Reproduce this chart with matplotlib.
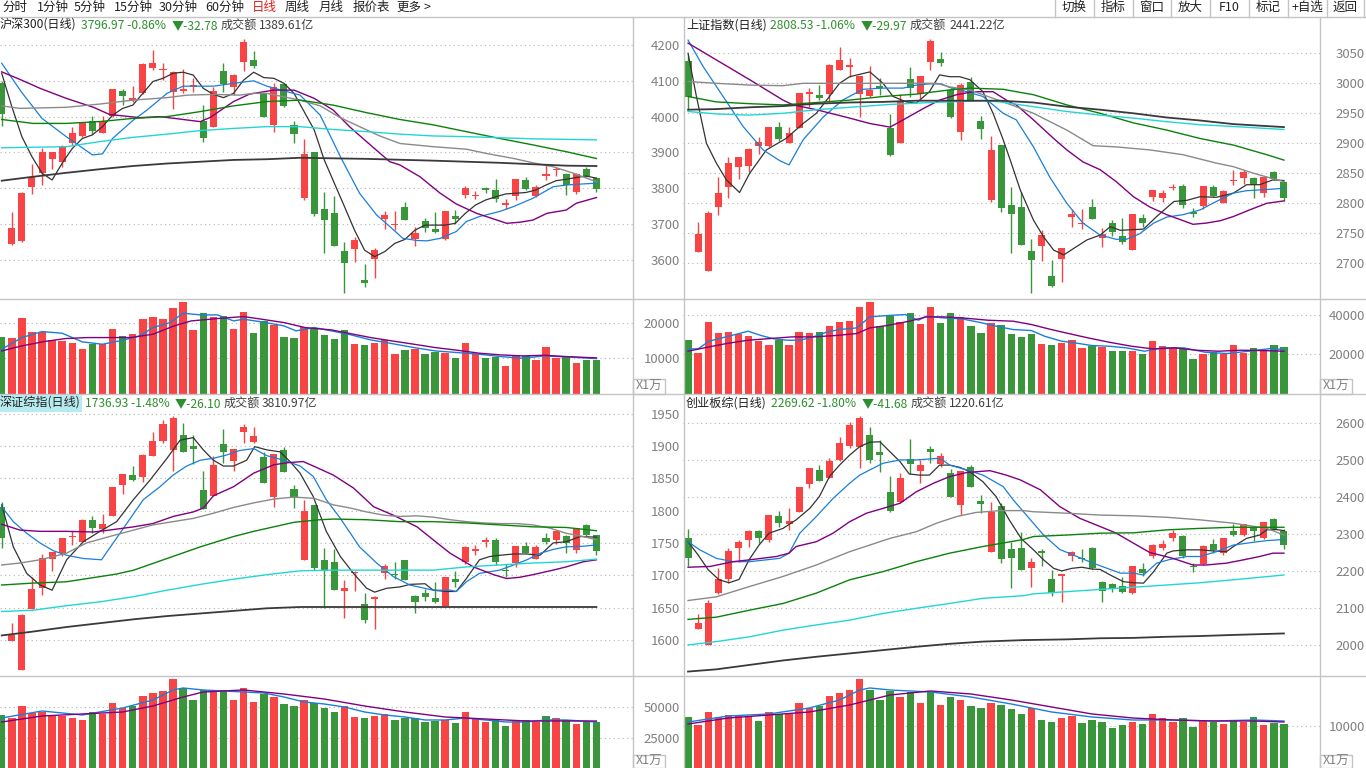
import matplotlib
matplotlib.use("Agg")
import matplotlib.pyplot as plt
from matplotlib.lines import Line2D
from matplotlib.patches import Rectangle

plt.rcParams['font.family'] = ['Noto Sans CJK SC', 'DejaVu Sans']

W, H = 1366, 768
RED = '#f84444'
GREEN = '#3a963a'
BORDER = '#c4c4c4'
GRID = '#b4b4b4'
LABEL = '#808080'
TGREEN = '#2e8f2e'

# ---------------- 沪深300 ----------------
hs300_open = [4093, 3643, 3653, 3804, 3843, 3882, 3874, 3927, 3946, 3988, 3955, 4002, 4072, 4047, 4065,
              4137, 4130, 4070, 4072, 4083, 3989, 3972, 4127, 4082, 4153, 4158, 4062, 3977, 4091, 3977,
              3774, 3900, 3742, 3731, 3625, 3631, 3544, 3601, 3715, 3697, 3748, 3658, 3708, 3685, 3658,
              3723, 3782, 3779, 3801, 3794, 3754, 3779, 3822, 3778, 3835, 3850, 3840, 3790, 3853, 3828]
hs300_high = [4100, 3734, 3789, 3868, 3911, 3900, 3921, 3970, 3984, 4002, 4002, 4076, 4076, 4086, 4151,
              4186, 4150, 4126, 4132, 4109, 4032, 4084, 4151, 4118, 4217, 4183, 4065, 4095, 4095, 3988,
              3938, 3900, 3789, 3779, 3650, 3665, 3588, 3632, 3735, 3736, 3762, 3691, 3716, 3734, 3736,
              3738, 3807, 3792, 3803, 3826, 3769, 3826, 3832, 3810, 3865, 3860, 3843, 3842, 3860, 3832]
hs300_low = [3975, 3641, 3650, 3784, 3809, 3853, 3860, 3921, 3944, 3951, 3953, 3999, 4032, 4042, 4062,
             4130, 4102, 4021, 4065, 4070, 3930, 3972, 4070, 4060, 4128, 4137, 3998, 3958, 4028, 3927,
             3767, 3723, 3620, 3638, 3506, 3593, 3525, 3548, 3686, 3683, 3712, 3640, 3679, 3674, 3654,
             3701, 3774, 3770, 3786, 3762, 3741, 3767, 3795, 3776, 3823, 3835, 3781, 3784, 3832, 3789]
hs300_close = [4006, 3688, 3786, 3830, 3900, 3900, 3918, 3953, 3984, 3961, 3988, 4076, 4058, 4052, 4147,
               4150, 4133, 4124, 4076, 4087, 3941, 4072, 4091, 4116, 4208, 4140, 3998, 4082, 4030, 3951,
               3896, 3729, 3711, 3639, 3592, 3655, 3534, 3628, 3724, 3701, 3712, 3675, 3690, 3678, 3736,
               3714, 3801, 3782, 3795, 3770, 3758, 3826, 3797, 3804, 3839, 3853, 3809, 3839, 3834, 3797]
hs300_vol = [16035, 15750, 21417, 17450, 17550, 15100, 14900, 14333, 12634, 14150, 14150, 18300, 16300,
             16880, 21135, 21700, 21135, 24250, 25950, 18000, 22830, 21700, 21984, 18300, 23116, 17170,
             20567, 19530, 16035, 15750, 18867, 18680, 16600, 15450, 18000, 14050, 13770, 14333, 15185,
             11216, 12350, 12634, 11216, 11784, 11500, 10080, 14333, 11216, 10080, 10365, 7815, 10650,
             10650, 9515, 13200, 10080, 10365, 8665, 9515, 9515]
hs300_ma5 = [(0, 4121), (1, 4028), (2, 3944), (3, 3888), (4, 3842), (5, 3823), (6, 3870), (7, 3911),
             (8, 3939), (9, 3949), (10, 3972), (11, 4004), (12, 4023), (13, 4032), (14, 4065), (15, 4098),
             (16, 4107), (17, 4121), (18, 4124), (19, 4116), (20, 4079), (21, 4062), (22, 4053), (23, 4065),
             (24, 4102), (25, 4124), (26, 4109), (27, 4107), (28, 4093), (29, 4065), (30, 4014), (31, 3963),
             (32, 3879), (33, 3814), (34, 3749), (35, 3683), (36, 3627), (37, 3609), (38, 3623), (39, 3646),
             (40, 3657), (41, 3683), (42, 3697), (44, 3697), (45, 3702), (46, 3730), (47, 3753), (48, 3767),
             (49, 3776), (50, 3784), (52, 3788), (53, 3795), (54, 3809), (55, 3821), (56, 3825), (57, 3830),
             (58, 3834), (59, 3828)]
hs300_ma10 = [(0, 4149), (2, 4067), (4, 3995), (6.4, 3944), (9, 3893), (10, 3896), (11, 3939), (13, 3989),
              (14.4, 4018), (16.4, 4065), (18, 4085), (21, 4085), (23, 4093), (25, 4100), (26.3, 4085),
              (28, 4072), (29.6, 4060), (31.6, 4004), (33.6, 3888), (35.5, 3786), (37.2, 3725), (38.5, 3693),
              (39.8, 3660), (41.2, 3654), (42.2, 3653), (43.5, 3660), (45.1, 3679), (46.1, 3707), (47.4, 3721),
              (49.4, 3735), (50.8, 3749), (52.7, 3772), (54.7, 3804), (56, 3809), (57.7, 3812), (59, 3814)]
hs300_ma20 = [(0, 4125), (1.8, 4104), (3.8, 4079), (6.4, 4051), (9.1, 4026), (10.7, 4006), (13.7, 3997),
              (15.7, 4000), (19.7, 3986), (20.7, 3998), (23, 4042), (24.6, 4063), (27, 4074), (29, 4074),
              (31, 4051), (32.9, 4018), (34.5, 3972), (36.2, 3930), (38.5, 3874), (39.5, 3865), (41.5, 3832),
              (43.5, 3786), (45.1, 3756), (47.1, 3730), (50.1, 3702), (51.4, 3705), (52.7, 3711), (54.1, 3730),
              (56, 3739), (57, 3758), (59, 3774)]
hs300_ma30 = [(0, 4030), (1.8, 4023), (6.4, 4026), (9.7, 4035), (13, 4046), (16.4, 4053), (18.4, 4060),
              (21, 4062), (23.6, 4060), (25, 4065), (26.3, 4065), (29.6, 4046), (31.6, 4030), (33.6, 3997),
              (35.5, 3972), (37.5, 3946), (39.5, 3925), (42.8, 3916), (46.1, 3909), (48.1, 3897), (50.8, 3883),
              (52.7, 3871), (54.7, 3860), (56.7, 3842), (59, 3818)]
hs300_ma60 = [(0, 3992), (3.1, 3981), (6.4, 3981), (9.7, 3986), (13, 3995), (16.4, 4000), (19.7, 4014),
              (23, 4030), (26.3, 4042), (29.6, 4046), (32.9, 4032), (36.2, 4011), (39.5, 3992), (42.8, 3977),
              (46.1, 3958), (49.4, 3939), (52.7, 3921), (56, 3902), (59, 3883)]
hs300_ma120 = [(0, 3913), (6.4, 3916), (9.7, 3930), (13, 3942), (16.4, 3951), (19.7, 3961), (23, 3967),
               (26.3, 3972), (29.6, 3972), (32.9, 3964), (36.2, 3958), (39.5, 3951), (42.8, 3946), (46.1, 3944),
               (49.4, 3941), (52.7, 3938), (59, 3935)]
hs300_ma250 = [(0, 3821), (3.1, 3832), (6.4, 3843), (9.7, 3853), (13, 3862), (16.4, 3869), (19.7, 3874),
               (23, 3879), (26.3, 3881), (29.6, 3885), (36.2, 3882), (42.8, 3877), (46.1, 3874), (49.4, 3871),
               (52.7, 3867), (56, 3863), (59, 3862)]
hs300_vma5 = [(0, 12540), (2, 15845), (4, 17545), (6, 17073), (8, 14617), (10, 13955), (12, 15089),
              (13.7, 16317), (15, 18678), (16.7, 20094), (18, 22739), (19.7, 22267), (21.4, 22267), (23, 20567),
              (24, 21039), (25.8, 20284), (28, 19150), (29.2, 17734), (31, 18678), (32.7, 17734), (34.4, 16789),
              (36.6, 15184), (38.7, 14145), (40.9, 13011), (43, 12067), (45.2, 11595), (47.4, 11122),
              (49.5, 10461), (51.7, 9989), (53.8, 10650), (56, 10367), (59, 9895)]
hs300_vma10 = [(0, 12068), (2, 13485), (4.2, 14712), (6.3, 15562), (8.5, 15845), (10.6, 15845), (12.8, 15845),
               (15, 16789), (17.1, 19150), (18.8, 20567), (21.4, 21228), (24, 21795), (25.8, 21039), (28, 20094),
               (30.1, 18678), (32.7, 18017), (34.4, 17073), (36.6, 15845), (38.7, 14901), (40.9, 13956),
               (43, 13011), (45.2, 12256), (47.4, 11406), (49.5, 10934), (51.7, 10650), (53.8, 10839),
               (56, 10461), (59, 10084)]

# ---------------- 上证指数 ----------------
sh_open = [3037, 2719, 2688, 2794, 2828, 2861, 2863, 2896, 2896, 2927, 2901, 2926, 2983, 2981, 2983,
           3022, 3028, 2982, 2979, 2994, 2926, 2901, 3007, 2982, 3036, 3040, 2989, 2919, 3002, 2937,
           2805, 2897, 2797, 2794, 2720, 2729, 2679, 2707, 2778, 2765, 2794, 2743, 2768, 2745, 2723,
           2775, 2810, 2809, 2826, 2829, 2785, 2796, 2827, 2801, 2837, 2843, 2843, 2817, 2852, 2836]
sh_high = [3047, 2769, 2787, 2844, 2877, 2877, 2893, 2911, 2927, 2936, 2927, 2984, 2992, 2998, 3032,
           3060, 3042, 3013, 3029, 3009, 2949, 2982, 3028, 3012, 3074, 3053, 2993, 3001, 3010, 2946,
           2912, 2897, 2827, 2819, 2740, 2755, 2705, 2725, 2790, 2790, 2807, 2759, 2773, 2775, 2782,
           2782, 2823, 2823, 2833, 2833, 2793, 2829, 2831, 2823, 2855, 2855, 2844, 2845, 2854, 2837]
sh_low = [2956, 2719, 2688, 2781, 2809, 2841, 2853, 2882, 2894, 2904, 2900, 2926, 2961, 2972, 2969,
          3022, 3011, 2944, 2978, 2981, 2879, 2901, 2978, 2974, 3022, 3029, 2943, 2906, 2970, 2907,
          2802, 2786, 2718, 2730, 2650, 2704, 2660, 2669, 2760, 2757, 2774, 2727, 2745, 2733, 2723,
          2761, 2804, 2803, 2823, 2792, 2777, 2791, 2811, 2800, 2831, 2833, 2809, 2811, 2839, 2804]
sh_close = [2978, 2749, 2784, 2818, 2867, 2877, 2891, 2903, 2927, 2907, 2917, 2984, 2986, 2976, 3031,
            3039, 3031, 3013, 2989, 2993, 2880, 2971, 2993, 3012, 3071, 3034, 2944, 2997, 2971, 2924,
            2889, 2792, 2782, 2730, 2705, 2747, 2662, 2725, 2782, 2768, 2774, 2749, 2753, 2736, 2782,
            2767, 2822, 2817, 2828, 2798, 2783, 2829, 2812, 2821, 2839, 2853, 2831, 2844, 2840, 2809]
sh_vol = [27332, 20836, 36562, 30922, 31434, 30750, 29383, 26819, 24768, 27674, 25110, 31434, 30922, 31434,
          34511, 36562, 37075, 44254, 46818, 34853, 39981, 36562, 41177, 35537, 44254, 36050, 41177, 39126,
          34853, 30922, 36050, 35024, 30409, 28871, 30409, 25281, 24768, 25794, 27332, 23229, 24255, 23742,
          21691, 21691, 21691, 20152, 26819, 24255, 23742, 23058, 17589, 20152, 21178, 20494, 24768, 20836,
          23229, 22203, 24768, 23742]
sh_ma5 = [(0, 3050), (0.83, 2978), (1.82, 2900), (2.8, 2867), (3.8, 2839), (5.1, 2818), (6.1, 2850),
          (7.76, 2889), (9.7, 2908), (11.4, 2933), (12.7, 2950), (14, 2978), (15, 3000), (16, 3011), (18, 3019),
          (19.3, 3000), (20.3, 2978), (21.6, 2969), (22.6, 2967), (23.9, 2986), (24.9, 3014), (25.9, 3011),
          (26.9, 3011), (27.9, 3006), (29.2, 2986), (30.2, 2950), (31.2, 2906), (31.9, 2872), (32.9, 2822),
          (34.2, 2772), (35.2, 2744), (36.2, 2722), (37.2, 2714), (38.2, 2725), (39.5, 2739), (40.8, 2747),
          (41.8, 2761), (42.8, 2755), (45.1, 2757), (46.4, 2778), (48.1, 2803), (49.4, 2805), (50.7, 2811),
          (52.3, 2810), (54, 2817), (55.3, 2831), (56.6, 2831), (57.9, 2839), (59, 2838)]
sh_ma10 = [(0, 3072), (1.49, 3028), (3.47, 2978), (5.45, 2928), (7.43, 2889), (9.08, 2871), (10, 2864),
           (11.4, 2906), (13.4, 2944), (15.3, 2972), (17.3, 2990), (19.3, 2992), (21.3, 2992), (22.6, 2997),
           (23.9, 2999), (25.1, 2999), (25.9, 2993), (27.6, 2986), (29.2, 2978), (31.2, 2950), (32.5, 2939),
           (34.2, 2894), (35.8, 2844), (37.5, 2800), (39.1, 2767), (40.8, 2747), (42.4, 2740), (43.4, 2740),
           (44.7, 2749), (46.1, 2767), (47.4, 2777), (49, 2781), (50.7, 2789), (52.3, 2803), (54, 2817),
           (55.3, 2821), (57.3, 2823), (59, 2825)]
sh_ma20 = [(0, 3067), (2.8, 3039), (6.1, 3006), (9.4, 2972), (10.4, 2964), (12.7, 2956), (16, 2942),
           (18, 2933), (20, 2927), (21.3, 2939), (23.3, 2958), (24.9, 2972), (26.6, 2981), (28.2, 2986),
           (30.2, 2986), (31.8, 2969), (32.5, 2964), (34.2, 2939), (36.2, 2908), (37.5, 2889), (39.1, 2869),
           (40.8, 2856), (42.4, 2836), (44.1, 2811), (45.7, 2794), (47.4, 2781), (50, 2765), (51.3, 2767),
           (52.7, 2771), (54, 2778), (55.6, 2789), (57.3, 2800), (59, 2804)]
sh_ma30 = [(0, 3003), (2.8, 3000), (6.1, 2997), (9.4, 2996), (11.4, 3000), (16, 3000), (22.6, 3000),
           (24.6, 3000), (25.9, 2994), (27.9, 2989), (29.2, 2981), (31.2, 2969), (32.5, 2961), (34.2, 2950),
           (36.2, 2933), (37.5, 2922), (39.1, 2906), (40.1, 2896), (42.4, 2894), (45.7, 2889), (49, 2881),
           (52.3, 2867), (54, 2861), (56, 2850), (59, 2836)]
sh_ma60 = [(0, 2978), (2.8, 2969), (6.1, 2966), (9.4, 2964), (12.7, 2968), (16, 2972), (19.3, 2978),
           (22.6, 2982), (25.9, 2989), (27.9, 2992), (31.2, 2990), (32.5, 2986), (34.2, 2981), (37.5, 2964),
           (40.8, 2950), (44.1, 2934), (47.4, 2922), (50.7, 2908), (54, 2897), (57.3, 2881), (59, 2872)]
sh_ma120 = [(0, 2953), (2.8, 2949), (6.1, 2947), (9.4, 2950), (12.7, 2956), (16, 2960), (19.3, 2964),
            (22.6, 2967), (25.9, 2969), (29.2, 2971), (30.9, 2969), (34.2, 2961), (37.5, 2953), (40.8, 2947),
            (44.1, 2942), (47.4, 2936), (50.7, 2931), (54, 2928), (59, 2923)]
sh_ma250 = [(0, 2956), (2.8, 2957), (6.1, 2960), (9.4, 2962), (12.7, 2966), (16, 2968), (19.3, 2969),
            (22.6, 2971), (29.2, 2971), (30.9, 2971), (34.2, 2968), (37.5, 2961), (40.8, 2956), (44.1, 2950),
            (47.4, 2943), (50.7, 2938), (54, 2932), (59, 2927)]
sh_vma5 = [(0, 22880), (1, 22880), (2.07, 26810), (3.36, 28520), (4.66, 30230), (5.95, 31939), (7.24, 29717),
           (8.53, 28008), (9.83, 27324), (11.1, 27324), (12.4, 29033), (13.7, 31426), (15, 32793),
           (16.7, 33648), (18, 39288), (19.7, 39972), (21.5, 40485), (22.8, 37579), (23.6, 39630),
           (25.3, 38776), (27.1, 38263), (28.8, 36553), (30.5, 34502), (32.2, 32793), (34, 32280),
           (35.3, 29374), (37, 26810), (38.3, 25956), (40, 24588), (41.7, 24246), (43.4, 23392),
           (45.2, 21682), (46.9, 23392), (49.1, 23392), (51.2, 21170), (53.4, 20486), (55.5, 21682),
           (57.7, 23050), (59, 22537)]
sh_vma10 = [(0, 21682), (2.07, 23904), (3.8, 25614), (5.95, 27324), (8.1, 28179), (10.3, 29033), (12.4, 29033),
            (14.6, 29717), (16.7, 30743), (18, 33648), (19.7, 34845), (21.9, 37067), (23.6, 39288),
            (25.3, 39288), (27.5, 38605), (29.7, 37579), (32.2, 37067), (34, 35357), (35.7, 33135),
            (37.4, 31084), (39.6, 28520), (41.7, 26297), (43.9, 24246), (46, 22880), (48.2, 23392),
            (50.3, 22196), (52.5, 21682), (54.7, 22196), (56.8, 22025), (59, 21682)]

# ---------------- 深证综指 ----------------
sz_open = [1806, 1599, 1553, 1648, 1681, 1726, 1734, 1759, 1752, 1786, 1771, 1791, 1840, 1855, 1852,
           1885, 1907, 1894, 1917, 1900, 1832, 1823, 1903, 1877, 1921, 1906, 1883, 1821, 1894, 1833,
           1724, 1809, 1724, 1720, 1676, 1703, 1656, 1663, 1704, 1702, 1723, 1668, 1673, 1665, 1653,
           1694, 1721, 1737, 1751, 1754, 1708, 1719, 1746, 1726, 1758, 1754, 1761, 1739, 1778, 1762]
sz_high = [1814, 1626, 1640, 1697, 1733, 1736, 1757, 1768, 1787, 1792, 1795, 1837, 1857, 1869, 1888,
           1922, 1940, 1946, 1935, 1917, 1861, 1884, 1926, 1896, 1934, 1929, 1891, 1888, 1898, 1840,
           1817, 1809, 1742, 1740, 1692, 1706, 1672, 1668, 1718, 1721, 1724, 1670, 1679, 1689, 1697,
           1706, 1745, 1747, 1760, 1757, 1717, 1746, 1752, 1747, 1766, 1770, 1762, 1773, 1779, 1763]
sz_low = [1742, 1599, 1553, 1648, 1669, 1706, 1730, 1747, 1751, 1766, 1766, 1791, 1826, 1846, 1845,
          1884, 1904, 1862, 1891, 1872, 1803, 1823, 1873, 1862, 1904, 1904, 1843, 1806, 1860, 1804,
          1724, 1708, 1649, 1677, 1634, 1676, 1627, 1617, 1695, 1695, 1693, 1641, 1661, 1657, 1652,
          1682, 1718, 1731, 1744, 1716, 1698, 1713, 1734, 1725, 1748, 1748, 1735, 1735, 1761, 1731]
sz_close = [1757, 1608, 1638, 1679, 1727, 1736, 1757, 1760, 1786, 1773, 1779, 1837, 1857, 1847, 1886,
            1908, 1934, 1943, 1891, 1895, 1803, 1870, 1890, 1896, 1930, 1916, 1843, 1888, 1860, 1819,
            1800, 1712, 1708, 1677, 1681, 1704, 1631, 1667, 1714, 1701, 1693, 1658, 1666, 1659, 1697,
            1689, 1744, 1741, 1755, 1721, 1706, 1746, 1735, 1744, 1751, 1769, 1750, 1773, 1762, 1737]
sz_vol = [43548, 41129, 50806, 45161, 45968, 42742, 42742, 41129, 39516, 45968, 44355, 53226, 49194, 50806,
          58871, 61290, 62903, 72581, 65323, 55645, 63710, 62097, 63710, 55645, 65323, 54032, 60484, 58065,
          52419, 50806, 55645, 53226, 49194, 45968, 50806, 41935, 41129, 42742, 44355, 39516, 41129, 41129,
          37903, 38710, 39516, 37097, 45968, 41129, 37903, 39516, 34677, 39516, 39516, 37903, 42742, 41129,
          39516, 36290, 38710, 37903]
sz_ma5 = [(0, 1809), (1.15, 1744), (2.48, 1703), (3.8, 1685), (5, 1677), (6.44, 1724), (8.1, 1752),
          (9.75, 1768), (11.4, 1783), (13.06, 1817), (14.7, 1847), (16.4, 1881), (17.7, 1909), (19, 1913),
          (20, 1894), (21, 1878), (22, 1869), (23, 1869), (24.3, 1878), (25.1, 1899), (26.3, 1894),
          (27.6, 1891), (28.6, 1876), (29.6, 1858), (30.9, 1822), (32.2, 1768), (33.6, 1729), (34.9, 1703),
          (36.2, 1680), (37, 1674), (38.2, 1680), (39.5, 1682), (40.5, 1686), (42, 1687), (42.8, 1677),
          (44.1, 1675), (45.1, 1675), (46.1, 1695), (47.4, 1724), (48.4, 1729), (49.4, 1731), (50.8, 1733),
          (52.1, 1733), (53.4, 1731), (54.7, 1750), (56, 1752), (57.4, 1760), (59, 1759)]
sz_ma10 = [(0, 1806), (1.15, 1783), (2.48, 1765), (3.8, 1750), (5.12, 1738), (6.44, 1731), (8.1, 1726),
           (9.9, 1724), (10.7, 1742), (12.4, 1780), (14.05, 1817), (15.7, 1837), (17, 1855), (18.35, 1869),
           (19.7, 1878), (21, 1881), (22.3, 1886), (23.6, 1893), (25, 1896), (26.3, 1885), (28, 1878),
           (29.6, 1869), (30.9, 1853), (32.2, 1817), (33.6, 1788), (35.5, 1744), (37.2, 1719), (38.85, 1698),
           (40.5, 1685), (42.8, 1677), (44.5, 1677), (45.1, 1675), (46.1, 1690), (47.4, 1703), (49.4, 1708),
           (50.8, 1716), (52.1, 1724), (53.4, 1734), (54.7, 1740), (56, 1744), (57.7, 1745), (59, 1747)]
sz_ma20 = [(0, 1779), (1.8, 1770), (3.8, 1768), (6.4, 1768), (9.1, 1767), (10.7, 1770), (13.1, 1775),
           (15, 1780), (17, 1791), (19, 1798), (20, 1804), (21, 1823), (23, 1837), (25, 1858), (27, 1871),
           (28.3, 1874), (29.9, 1876), (31.2, 1867), (32.9, 1855), (34.9, 1835), (36.9, 1806), (38.85, 1793),
           (41.2, 1775), (42.8, 1755), (44.5, 1734), (46.8, 1713), (48.8, 1701), (50.1, 1695), (51.4, 1697),
           (52.7, 1701), (54.7, 1708), (56, 1713), (57.7, 1721), (59, 1724)]
sz_ma30 = [(0, 1716), (1.8, 1719), (3.8, 1724), (6.4, 1734), (8.4, 1750), (10.7, 1760), (13.1, 1770),
           (15, 1778), (17, 1783), (19, 1788), (21, 1796), (23, 1805), (25, 1812), (27, 1818), (29, 1821),
           (31, 1819), (32.9, 1809), (34.6, 1804), (36.2, 1798), (37.9, 1793), (39.5, 1791), (41.2, 1792),
           (42.8, 1790), (44.5, 1786), (46.1, 1783), (47.8, 1781), (49.4, 1780), (51.1, 1780), (52.7, 1778),
           (54.4, 1773), (56, 1765), (57.7, 1760), (59, 1755)]
sz_ma60 = [(0, 1685), (3.1, 1688), (6.4, 1690), (9.75, 1698), (11.4, 1702), (13.1, 1708), (16.4, 1726),
           (19.7, 1744), (23, 1760), (25, 1768), (27, 1775), (29, 1782), (31.6, 1786), (32.9, 1787),
           (36.2, 1786), (39.5, 1783), (42.8, 1783), (46.1, 1781), (49.4, 1778), (52.7, 1775), (56, 1774),
           (59, 1769)]
sz_ma120 = [(0, 1644), (3.1, 1646), (6.4, 1653), (9.75, 1659), (13.1, 1667), (16.4, 1677), (19.7, 1686),
            (23, 1694), (26.3, 1701), (29.6, 1707), (32.9, 1708), (39.5, 1708), (42.8, 1708), (46.1, 1713),
            (49.4, 1716), (52.7, 1719), (56, 1721), (59, 1725)]
sz_ma250 = [(0, 1607), (3.1, 1613), (6.4, 1620), (9.75, 1626), (13.1, 1632), (16.4, 1637), (19.7, 1641),
            (23, 1645), (26.3, 1649), (29.6, 1651), (59, 1651)]
sz_vma5 = [(0, 41129), (4, 46774), (6, 45161), (8, 43548), (12, 49194), (15, 55645), (17, 63710), (18, 65323),
           (20, 63710), (22, 62903), (24, 62097), (26, 61290), (28, 58065), (30, 54032), (32, 52419),
           (34, 50000), (36, 45968), (38, 43548), (40, 41935), (42, 39516), (44, 39516), (46, 41129),
           (48, 39516), (50, 37903), (52, 37903), (54, 39516), (56, 39516), (59, 37903)]
sz_vma10 = [(0, 37903), (4, 42742), (8, 44355), (12, 45968), (15, 50806), (18, 58065), (20, 62097),
            (24, 63710), (28, 60484), (32, 56452), (36, 50806), (40, 45968), (44, 41935), (48, 40323),
            (52, 38710), (56, 38710), (59, 38710)]

# ---------------- 创业板综 ----------------
cy_open = [2291, 2043, 2001, 2141, 2178, 2264, 2285, 2309, 2285, 2350, 2327, 2359, 2436, 2474, 2453,
           2501, 2539, 2535, 2568, 2522, 2415, 2386, 2503, 2472, 2530, 2490, 2465, 2379, 2481, 2390,
           2253, 2377, 2259, 2262, 2210, 2255, 2178, 2186, 2241, 2237, 2264, 2170, 2165, 2159, 2141,
           2206, 2240, 2262, 2291, 2295, 2215, 2220, 2274, 2249, 2309, 2298, 2318, 2291, 2341, 2309]
cy_high = [2313, 2085, 2122, 2208, 2262, 2285, 2312, 2312, 2352, 2364, 2370, 2429, 2480, 2487, 2505,
           2564, 2604, 2621, 2589, 2555, 2458, 2467, 2557, 2501, 2539, 2519, 2476, 2472, 2487, 2406,
           2386, 2384, 2280, 2307, 2235, 2259, 2204, 2193, 2256, 2259, 2267, 2175, 2169, 2184, 2213,
           2223, 2274, 2285, 2312, 2297, 2222, 2270, 2287, 2291, 2327, 2328, 2321, 2332, 2345, 2313]
cy_low = [2213, 2043, 2001, 2139, 2168, 2226, 2267, 2276, 2280, 2321, 2312, 2359, 2424, 2445, 2453,
          2499, 2532, 2478, 2492, 2469, 2361, 2384, 2463, 2438, 2494, 2483, 2400, 2352, 2429, 2357,
          2253, 2223, 2154, 2204, 2157, 2213, 2132, 2118, 2229, 2226, 2206, 2116, 2145, 2141, 2138,
          2187, 2237, 2258, 2283, 2235, 2199, 2217, 2249, 2244, 2296, 2295, 2283, 2287, 2312, 2260]
cy_close = [2235, 2059, 2115, 2178, 2255, 2280, 2309, 2291, 2352, 2331, 2336, 2429, 2480, 2445, 2499,
            2546, 2595, 2615, 2501, 2514, 2364, 2451, 2490, 2487, 2523, 2512, 2402, 2472, 2429, 2381,
            2361, 2232, 2237, 2204, 2225, 2249, 2142, 2192, 2251, 2233, 2208, 2147, 2151, 2143, 2213,
            2195, 2271, 2274, 2304, 2240, 2211, 2268, 2258, 2291, 2298, 2328, 2309, 2332, 2313, 2270]
cy_vol = [12143, 10238, 13333, 12143, 12619, 12381, 12381, 11190, 13333, 12857, 12857, 15476, 14286, 14762,
          17143, 17857, 18571, 21190, 18571, 16190, 18333, 16905, 18095, 15476, 18095, 15000, 16905, 16190,
          14762, 14286, 15476, 15000, 14048, 12857, 14286, 11429, 10952, 11905, 12381, 10714, 11429, 10952,
          9524, 10238, 10952, 10476, 12857, 11905, 10952, 11905, 9762, 11190, 10952, 10476, 11429, 10952,
          12143, 10238, 10714, 10476]
cy_ma5 = [(0, 2280), (1, 2244), (2, 2204), (3.07, 2177), (4.06, 2169), (5.05, 2178), (6.04, 2231),
          (7.03, 2271), (8.02, 2303), (9.4, 2316), (10.7, 2339), (12.05, 2370), (13, 2402), (14, 2456),
          (15, 2487), (16, 2514), (17, 2537), (18, 2549), (19, 2550), (20, 2523), (21, 2496), (21.9, 2463),
          (22.9, 2460), (23.9, 2460), (24.9, 2487), (25.9, 2487), (26.9, 2481), (27.9, 2469), (29.2, 2442),
          (30.5, 2402), (31.8, 2339), (33, 2288), (34.2, 2258), (35.2, 2231), (36.2, 2208), (37, 2201),
          (38, 2208), (39, 2211), (40, 2206), (40.8, 2205), (41.8, 2190), (43.1, 2172), (44.1, 2169),
          (45.1, 2168), (46.1, 2199), (47.4, 2249), (48, 2255), (49.4, 2258), (50.7, 2258), (52, 2255),
          (53.3, 2253), (54, 2267), (55.3, 2289), (56.6, 2298), (57.3, 2312), (58.2, 2313), (59, 2310)]
cy_ma10 = [(0, 2280), (1.16, 2258), (2.8, 2235), (4.46, 2226), (6.1, 2226), (7.76, 2231), (9.08, 2235),
           (10, 2249), (11.06, 2303), (12.7, 2348), (14.36, 2397), (16, 2438), (17, 2460), (18, 2474),
           (19.3, 2492), (21, 2501), (22.6, 2501), (24.6, 2505), (25.2, 2501), (25.9, 2487), (27.6, 2474),
           (29.2, 2460), (31.2, 2429), (32.2, 2393), (33.4, 2355), (35.2, 2298), (36.8, 2259), (38.5, 2240),
           (40.1, 2222), (41.5, 2208), (42.8, 2195), (44.1, 2195), (45.1, 2190), (46.4, 2222), (47.7, 2232),
           (49.4, 2240), (50.7, 2240), (52.3, 2253), (54, 2271), (55.6, 2277), (57.3, 2283), (59, 2286)]
cy_ma20 = [(0, 2211), (2.15, 2213), (4.46, 2226), (6.1, 2231), (8.75, 2240), (10, 2249), (10.7, 2267),
           (12.7, 2280), (14.36, 2303), (16, 2334), (17.66, 2357), (19.3, 2370), (21, 2384), (22.6, 2415),
           (24.3, 2438), (25.9, 2456), (27.6, 2467), (29.9, 2472), (31.5, 2460), (32.9, 2447), (34.9, 2420),
           (36.8, 2375), (38.8, 2343), (40.8, 2321), (42.4, 2303), (44.1, 2276), (45.7, 2251), (48, 2235),
           (50, 2217), (51.3, 2217), (53.3, 2222), (55, 2231), (56.6, 2240), (57.9, 2249), (59, 2249)]
cy_ma30 = [(0, 2121), (2.8, 2131), (6.1, 2159), (9.4, 2186), (12.7, 2217), (16, 2253), (18, 2271),
           (20, 2289), (22.6, 2307), (24.6, 2330), (26.6, 2348), (28.5, 2359), (30.9, 2364), (33.2, 2364),
           (34.2, 2361), (37.5, 2357), (40.8, 2352), (44.1, 2350), (47.4, 2346), (50.7, 2339), (54, 2330),
           (57.3, 2316), (59, 2298)]
cy_ma60 = [(0, 2070), (2.8, 2076), (6.1, 2095), (9.4, 2113), (12.7, 2141), (16, 2177), (19.3, 2199),
           (22.6, 2226), (25.9, 2249), (29.2, 2267), (33.2, 2286), (34.2, 2294), (37.5, 2298), (40.8, 2303),
           (44.1, 2304), (47.4, 2312), (50.7, 2316), (54, 2319), (59, 2319)]
cy_ma120 = [(0, 2001), (2.8, 2010), (6.1, 2023), (9.4, 2041), (12.7, 2055), (16, 2068), (19.3, 2086),
            (22.6, 2100), (25.9, 2113), (29.2, 2127), (33.2, 2134), (34.2, 2139), (37.5, 2145), (40.8, 2151),
            (44.1, 2157), (47.4, 2163), (50.7, 2169), (54, 2177), (59, 2190)]
cy_ma250 = [(0, 1929), (2.8, 1935), (6.1, 1947), (9.4, 1959), (12.7, 1969), (16, 1978), (19.3, 1987),
            (22.6, 1996), (25.9, 2004), (29.2, 2010), (33.2, 2014), (37.5, 2016), (40.8, 2019), (44.1, 2020),
            (47.4, 2023), (50.7, 2025), (54, 2028), (59, 2032)]
cy_vma5 = [(0, 10952), (4, 12381), (8, 12857), (12, 14286), (15, 16190), (17, 18571), (18, 19048),
           (20, 18571), (24, 18095), (28, 16905), (32, 15238), (36, 13333), (40, 12143), (44, 11429),
           (48, 11429), (52, 11190), (56, 11429), (59, 11190)]
cy_vma10 = [(0, 10476), (4, 11905), (8, 12619), (12, 13333), (16, 15000), (20, 17381), (24, 18333),
            (28, 17619), (32, 16190), (36, 14524), (40, 12857), (44, 11905), (48, 11429), (52, 11190),
            (56, 11190), (59, 10952)]

# ---------------- figure ----------------
fig = plt.figure(figsize=(W / 100, H / 100), dpi=100, facecolor='white')


def add_ax(x0, y0, x1, y1):
    ax = fig.add_axes([x0 / W, 1 - y1 / H, (x1 - x0) / W, (y1 - y0) / H])
    ax.set_facecolor('none')
    for s in ax.spines.values():
        s.set_visible(False)
    return ax


def fline(xs, ys, color=BORDER, lw=1.0):
    fig.add_artist(Line2D([x / W for x in xs], [1 - y / H for y in ys],
                          transform=fig.transFigure, color=color, lw=lw))


def ftext(x, y, s, **kw):
    kw.setdefault('fontsize', 8.7)
    kw.setdefault('va', 'center')
    fig.text(x / W, 1 - y / H, s, **kw)


MA_STYLE = [('#333333', 0.9), ('#1a7fd8', 0.9), ('#800080', 1.0), ('#8a8a8a', 1.0),
            ('#0a820a', 1.0), ('#22d6d6', 1.0), ('#3a3a3a', 1.3)]


def draw_panel(x0, x1, y0, ymid, y1, xlim, o, hi, lo, c, vol, mas, vmas,
               plim, pticks, vlim, vticks, label_x):
    ax = add_ax(x0, y0, x1, ymid)
    axv = add_ax(x0, ymid, x1, y1)
    minh = (plim[1] - plim[0]) * 0.004
    cols = [RED if c[i] >= o[i] else GREEN for i in range(len(o))]
    for i in range(len(o)):
        ax.vlines(i, lo[i], hi[i], color=cols[i], lw=1, zorder=2)
        ax.bar(i, max(abs(c[i] - o[i]), minh), bottom=min(o[i], c[i]), width=0.7,
               color=cols[i], lw=0, zorder=2)
    for pts, (col, lw) in zip(mas, MA_STYLE):
        ax.plot([p[0] for p in pts], [p[1] for p in pts], color=col, lw=lw, zorder=3)
    axv.bar(range(len(vol)), vol, width=0.74, color=cols, lw=0, zorder=2)
    for pts, col in zip(vmas, ['#1a7fd8', '#800080']):
        axv.plot([p[0] for p in pts], [p[1] for p in pts], color=col, lw=1.0, zorder=3)

    right_pad = (label_x - x1) / 100 * 72
    for a, lim, ticks in ((ax, plim, pticks), (axv, vlim, vticks)):
        a.set_xlim(*xlim)
        a.set_ylim(*lim)
        a.set_xticks([])
        a.set_yticks(ticks)
        a.yaxis.tick_right()
        a.tick_params(axis='y', length=0, pad=right_pad, labelsize=9.5, labelcolor=LABEL)
        for lab in a.get_yticklabels():
            lab.set_horizontalalignment('right')
        for t in ticks:
            a.axhline(t, color=GRID, lw=0.8, ls=(0, (1, 3)), zorder=1)


# top-left: 沪深300
draw_panel(0, 633, 17, 299, 393.5, (-0.17, 62.63),
           hs300_open, hs300_high, hs300_low, hs300_close, hs300_vol,
           [hs300_ma5, hs300_ma10, hs300_ma20, hs300_ma30, hs300_ma60, hs300_ma120, hs300_ma250],
           [hs300_vma5, hs300_vma10],
           (3490.6, 4278.2), [3600, 3700, 3800, 3900, 4000, 4100, 4200],
           (0, 26770), [10000, 20000], 680)
# top-right: 上证指数
draw_panel(683, 1320, 17, 299, 393.5, (-0.5, 62.57),
           sh_open, sh_high, sh_low, sh_close, sh_vol,
           [sh_ma5, sh_ma10, sh_ma20, sh_ma30, sh_ma60, sh_ma120, sh_ma250],
           [sh_vma5, sh_vma10],
           (2640.5, 3110.5), [2700, 2750, 2800, 2850, 2900, 2950, 3000, 3050],
           (0, 48460), [20000, 40000], 1365)
# bottom-left: 深证综指
draw_panel(0, 633, 394, 676, 768, (-0.17, 62.63),
           sz_open, sz_high, sz_low, sz_close, sz_vol,
           [sz_ma5, sz_ma10, sz_ma20, sz_ma30, sz_ma60, sz_ma120, sz_ma250],
           [sz_vma5, sz_vma10],
           (1544.3, 1980.4), [1600, 1650, 1700, 1750, 1800, 1850, 1900, 1950],
           (800, 74990), [25000, 50000], 680)
# bottom-right: 创业板综
draw_panel(683, 1320, 394, 676, 768, (-0.5, 62.57),
           cy_open, cy_high, cy_low, cy_close, cy_vol,
           [cy_ma5, cy_ma10, cy_ma20, cy_ma30, cy_ma60, cy_ma120, cy_ma250],
           [cy_vma5, cy_vma10],
           (1917.0, 2679.2), [2000, 2100, 2200, 2300, 2400, 2500, 2600],
           (0, 21900), [10000], 1365)

# ---------------- frame lines ----------------
for y in (16.5, 299, 393.5, 676):
    fline([0, W], [y, y])
for x in (633, 683.5, 1320):
    fline([x, x], [16.5, H])
for x in (1055, 1094, 1133, 1171, 1210, 1249, 1288, 1327, 1364):
    fline([x, x], [0, 16.5])

# ---------------- toolbar ----------------
tabs = ['分时', '1分钟', '5分钟', '15分钟', '30分钟', '60分钟', '日线', '周线', '月线', '报价表', '更多', '>']
tab_x = [2, 37, 74, 114, 159, 205, 252, 285, 319, 353, 396, 423]
for s, x in zip(tabs, tab_x):
    ftext(x, 7.5, s, color='#e02020' if s == '日线' else '#222222', ha='left', fontsize=9)

buttons = ['切换', '指标', '窗口', '放大', 'F10', '标记', '+自选', '返回']
btn_x = [1074.5, 1113.5, 1152, 1190.5, 1229.5, 1268.5, 1307.5, 1345.5]
for s, x in zip(buttons, btn_x):
    ftext(x, 7.5, s, color='#222222', ha='center', fontsize=9)

# ---------------- titles ----------------
titles = [
    (25.5, [(0, '沪深300(日线)', '#202020'), (81, '3796.97 -0.86%', TGREEN), (172, '▼-32.78', TGREEN),
            (221, '成交额', '#404040'), (259, '1389.61亿', '#404040')]),
    (25.5, [(686, '上证指数(日线)', '#202020'), (770, '2808.53 -1.06%', TGREEN), (861, '▼-29.97', TGREEN),
            (910, '成交额', '#404040'), (949, '2441.22亿', '#404040')]),
    (403.5, [(0, '深证综指(日线)', '#202020'), (85, '1736.93 -1.48%', TGREEN), (175, '▼-26.10', TGREEN),
             (224, '成交额', '#404040'), (262, '3810.97亿', '#404040')]),
    (403.5, [(686, '创业板综(日线)', '#202020'), (771, '2269.62 -1.80%', TGREEN), (862, '▼-41.68', TGREEN),
             (911, '成交额', '#404040'), (949, '1220.61亿', '#404040')]),
]
for y, parts in titles:
    for x, s, col in parts:
        kw = {}
        if s == '深证综指(日线)':
            kw['bbox'] = dict(facecolor='#b6ecf0', edgecolor='none', pad=1.2)
        ftext(x, y, s, color=col, ha='left', **kw)

# ---------------- unit boxes ----------------
for bx, by0, by1 in ((633, 379, 393.5), (1320, 379, 393.5), (633, 755, 768), (1320, 755, 768)):
    fig.add_artist(Rectangle((bx / W, 1 - by1 / H), 32 / W, (by1 - by0) / H, transform=fig.transFigure,
                             facecolor='white', edgecolor=BORDER, lw=1))
    ftext(bx + 16, (by0 + by1) / 2, 'X1万', color=LABEL, ha='center', fontsize=9)

fig.savefig('out.png', dpi=100, facecolor='white')
